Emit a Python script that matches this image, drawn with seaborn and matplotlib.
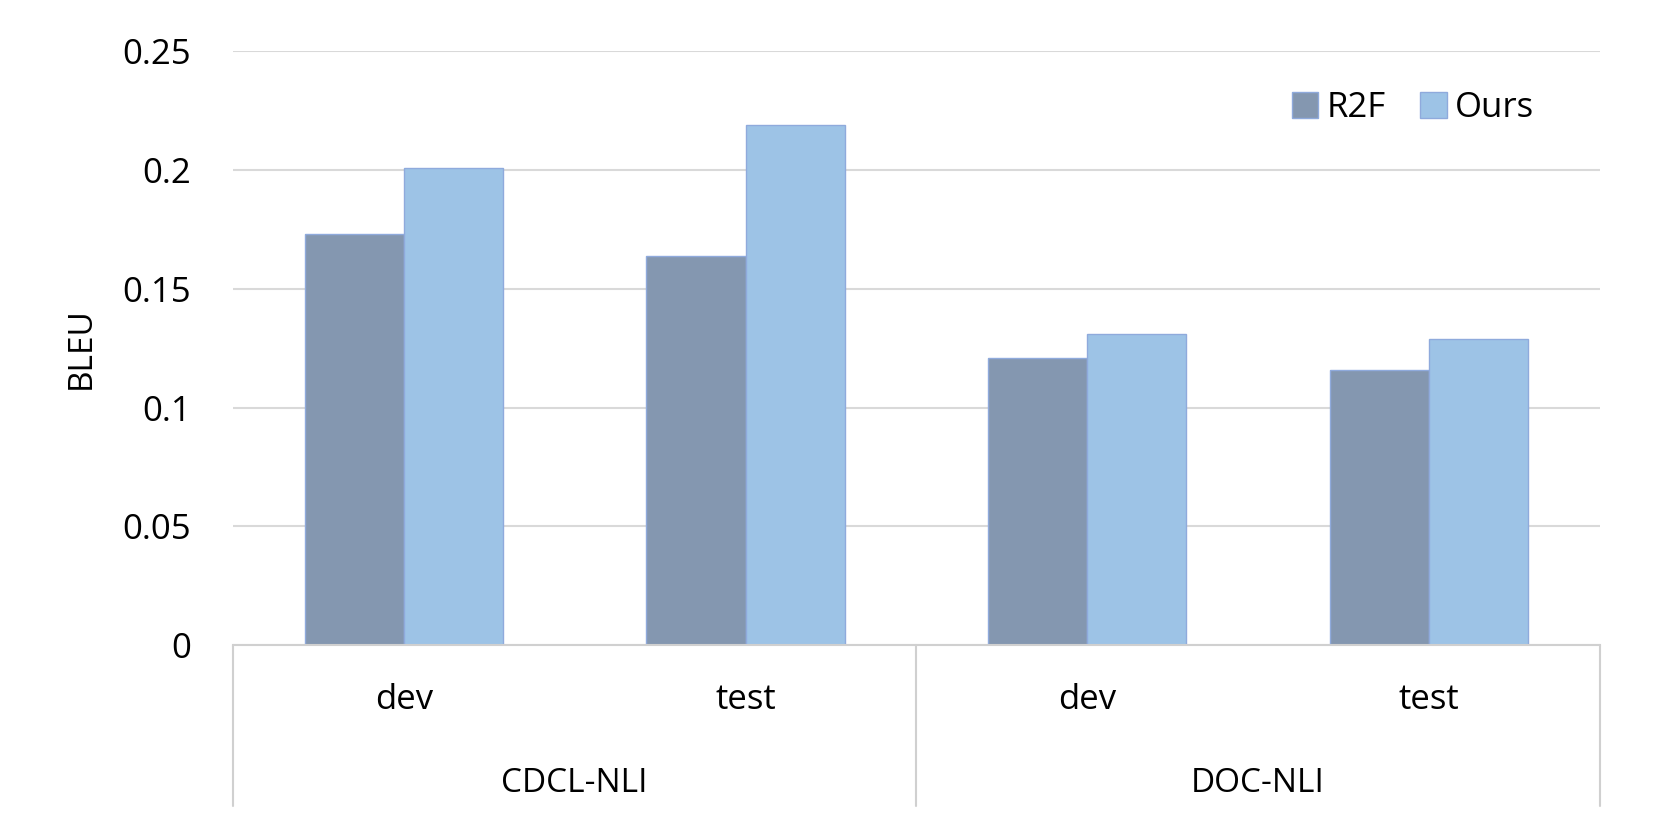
import matplotlib
matplotlib.use("Agg")
import matplotlib.pyplot as plt
import seaborn as sns
import pandas as pd
from matplotlib.transforms import blended_transform_factory

groups = ["CDCL-NLI", "CDCL-NLI", "DOC-NLI", "DOC-NLI"]
splits = ["dev", "test", "dev", "test"]
r2f = [0.173, 0.164, 0.121, 0.116]
ours = [0.201, 0.219, 0.131, 0.129]
yticks = [0, 0.05, 0.1, 0.15, 0.2, 0.25]
ytick_labels = ["0", "0.05", "0.1", "0.15", "0.2", "0.25"]

cats = [f"{g}|{s}" for g, s in zip(groups, splits)]
df = pd.DataFrame({
    "cat": cats * 2,
    "model": ["R2F"] * 4 + ["Ours"] * 4,
    "BLEU": r2f + ours,
})

sns.set_theme(style="white")
plt.rcParams["font.family"] = ["Open Sans", "DejaVu Sans"]
plt.rcParams["text.color"] = "black"
plt.rcParams["axes.labelcolor"] = "black"
plt.rcParams["ytick.color"] = "black"

fig = plt.figure(figsize=(16.59, 8.38), dpi=100)
ax = fig.add_axes([0.1404, 0.230, 0.9644 - 0.1404, 0.939 - 0.230])

sns.barplot(data=df, x="cat", y="BLEU", hue="model", order=cats,
            hue_order=["R2F", "Ours"], palette=["#8497B0", "#9DC3E6"],
            width=0.58, edgecolor="#8FAADC", linewidth=1.0, ax=ax,
            saturation=1, errorbar=None)

ax.set_ylim(0, 0.25)
ax.set_xlim(-0.5, 3.5)
ax.set_yticks(yticks)
ax.set_yticklabels(ytick_labels, fontsize=25)
ax.yaxis.grid(True, color="#D9D9D9", linewidth=1.5)
ax.set_axisbelow(True)
ax.tick_params(axis="y", length=0, pad=30)
ax.tick_params(axis="x", length=0, labelbottom=False)
ax.set_xlabel("")
ax.set_ylabel("BLEU", fontsize=24, labelpad=18)
for s in ["left", "right", "top"]:
    ax.spines[s].set_visible(False)
ax.spines["bottom"].set_color("#D0D0D0")
ax.spines["bottom"].set_linewidth(1.5)

trans = blended_transform_factory(ax.transData, ax.transAxes)
for i, s in enumerate(splits):
    ax.text(i, -0.092, s, transform=trans, ha="center", va="center", fontsize=25)
unique_groups = []
for g in groups:
    if g not in unique_groups:
        unique_groups.append(g)
for gi, g in enumerate(unique_groups):
    idx = [i for i, gg in enumerate(groups) if gg == g]
    ax.text((min(idx) + max(idx)) / 2, -0.232, g, transform=trans,
            ha="center", va="center", fontsize=24)
for xs in [-0.5, 1.5, 3.5]:
    ax.plot([xs, xs], [0, -0.271], transform=trans, color="#D0D0D0",
            linewidth=1.5, clip_on=False)

leg = ax.legend(loc="center right", bbox_to_anchor=(0.952, 0.904), ncol=2,
                frameon=False, fontsize=25, handlelength=0.75, handleheight=0.75,
                handletextpad=0.25, columnspacing=1.0, borderpad=0,
                borderaxespad=0)

fig.savefig("out.png", dpi=100)
